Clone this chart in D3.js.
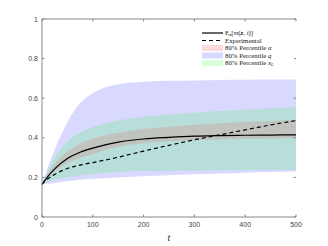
<!DOCTYPE html>
<html>
<head>
<meta charset="utf-8">
<script src="https://cdn.jsdelivr.net/npm/d3@7"></script>
<style>
  body { margin: 0; background: #fff; }
  .tick-label { font-family: "Liberation Sans", Arial, sans-serif; font-size: 7px; fill: #444; }
  .leg { font-family: "Liberation Serif", "DejaVu Serif", serif; font-size: 6.8px; fill: #222; }
</style>
</head>
<body>
<svg id="chart" width="328" height="246"></svg>
<script>
// time points (t)
const tVals = [0, 10, 25, 50, 75, 100, 150, 200, 250, 300, 350, 400, 450, 500];
// mean of m(z,t)
const meanVals = [0.165, 0.2, 0.243, 0.295, 0.327, 0.348, 0.378, 0.394, 0.402, 0.408, 0.411, 0.413, 0.414, 0.415];
// experimental curve
const expVals = [0.165, 0.19, 0.215, 0.245, 0.262, 0.275, 0.302, 0.333, 0.362, 0.39, 0.415, 0.44, 0.465, 0.487];
// 80% percentile bands
const alphaLo = [0.165, 0.19, 0.228, 0.272, 0.298, 0.318, 0.355, 0.372, 0.382, 0.388, 0.392, 0.395, 0.397, 0.398];
const alphaHi = [0.165, 0.21, 0.268, 0.33, 0.37, 0.395, 0.425, 0.444, 0.456, 0.466, 0.474, 0.48, 0.485, 0.49];
const qLo = [0.165, 0.168, 0.172, 0.18, 0.188, 0.193, 0.2, 0.206, 0.211, 0.216, 0.22, 0.224, 0.227, 0.23];
const qHi = [0.165, 0.24, 0.34, 0.48, 0.575, 0.625, 0.67, 0.683, 0.688, 0.69, 0.692, 0.693, 0.694, 0.695];
const xlLo = [0.165, 0.175, 0.188, 0.2, 0.21, 0.217, 0.228, 0.232, 0.234, 0.235, 0.236, 0.237, 0.238, 0.238];
const xlHi = [0.165, 0.225, 0.3, 0.38, 0.425, 0.455, 0.488, 0.506, 0.518, 0.527, 0.535, 0.542, 0.549, 0.555];

const xTicks = [0, 100, 200, 300, 400, 500];
const yTicks = [0, 0.2, 0.4, 0.6, 0.8, 1];

const svg = d3.select("#chart");
const mLeft = 42, mRight = 296, mTop = 19, mBottom = 217;

const x = d3.scaleLinear().domain([0, 500]).range([mLeft, mRight]);
const y = d3.scaleLinear().domain([0, 1]).range([mBottom, mTop]);

// bands: drawn in legend order, transparent so they mix
const bands = [
  {lo: qLo, hi: qHi, color: "rgb(0,0,255)", op: 0.15},
  {lo: xlLo, hi: xlHi, color: "rgb(0,255,0)", op: 0.15},
  {lo: alphaLo, hi: alphaHi, color: "rgb(255,0,0)", op: 0.12}
];
const area = d3.area().curve(d3.curveMonotoneX)
  .x(d => x(d.t)).y0(d => y(d.lo)).y1(d => y(d.hi));

bands.forEach(b => {
  const rows = tVals.map((t, i) => ({t: t, lo: b.lo[i], hi: b.hi[i]}));
  svg.append("path").attr("d", area(rows))
    .attr("fill", b.color).attr("fill-opacity", b.op).attr("stroke", "none");
});

const line = d3.line().curve(d3.curveMonotoneX).x(d => x(d[0])).y(d => y(d[1]));

svg.append("path").attr("d", line(tVals.map((t, i) => [t, meanVals[i]])))
  .attr("fill", "none").attr("stroke", "#000").attr("stroke-width", 1.2);
svg.append("path").attr("d", line(tVals.map((t, i) => [t, expVals[i]])))
  .attr("fill", "none").attr("stroke", "#000").attr("stroke-width", 1.2)
  .attr("stroke-dasharray", "4,3");

// axes (matlab style, ticks pointing in)
const axCol = "#888";
svg.append("line").attr("x1", mLeft).attr("x2", mRight).attr("y1", mBottom).attr("y2", mBottom).attr("stroke", axCol);
svg.append("line").attr("x1", mLeft).attr("x2", mRight).attr("y1", mTop).attr("y2", mTop).attr("stroke", axCol);
svg.append("line").attr("x1", mLeft).attr("x2", mLeft).attr("y1", mTop).attr("y2", mBottom).attr("stroke", axCol);

xTicks.forEach(v => {
  svg.append("line").attr("x1", x(v)).attr("x2", x(v)).attr("y1", mBottom).attr("y2", mBottom - 2.5).attr("stroke", axCol);
  svg.append("line").attr("x1", x(v)).attr("x2", x(v)).attr("y1", mTop).attr("y2", mTop + 2.5).attr("stroke", axCol);
  svg.append("text").attr("class", "tick-label").attr("x", x(v)).attr("y", mBottom + 10)
    .attr("text-anchor", "middle").text(v);
});
yTicks.forEach(v => {
  svg.append("line").attr("x1", mLeft).attr("x2", mLeft + 2.5).attr("y1", y(v)).attr("y2", y(v)).attr("stroke", axCol);
  svg.append("line").attr("x1", mRight).attr("x2", mRight - 2.5).attr("y1", y(v)).attr("y2", y(v)).attr("stroke", axCol);
  svg.append("text").attr("class", "tick-label").attr("x", mLeft - 4).attr("y", y(v) + 2.5)
    .attr("text-anchor", "end").text(v);
});

svg.append("text").attr("x", (mLeft + mRight) / 2).attr("y", 241)
  .attr("text-anchor", "middle").attr("font-family", "Liberation Serif, serif")
  .attr("font-style", "italic").attr("font-size", 10).attr("fill", "#222").text("t");

// legend
const lg = svg.append("g");
lg.append("rect").attr("x", 198).attr("y", 27).attr("width", 96).attr("height", 41).attr("fill", "#fff");
const legX = 202, legW = 21, legTx = 225;
const legY = [33, 40.5, 48, 55.5, 63];

lg.append("line").attr("x1", legX).attr("x2", legX + legW).attr("y1", legY[0]).attr("y2", legY[0])
  .attr("stroke", "#000").attr("stroke-width", 1.2);
lg.append("line").attr("x1", legX).attr("x2", legX + legW).attr("y1", legY[1]).attr("y2", legY[1])
  .attr("stroke", "#000").attr("stroke-width", 1.2).attr("stroke-dasharray", "4,3");
[bands[2], bands[0], bands[1]].forEach((b, i) => {
  lg.append("rect").attr("x", legX).attr("y", legY[i + 2] - 3).attr("width", legW).attr("height", 6)
    .attr("fill", b.color).attr("fill-opacity", 0.15);
});

const t0 = lg.append("text").attr("class", "leg").attr("x", legTx).attr("y", legY[0] + 2);
t0.append("tspan").text("E");
t0.append("tspan").attr("font-size", 4.5).attr("dy", 1).attr("font-weight", "bold").text("z");
t0.append("tspan").attr("dy", -1).text("[");
t0.append("tspan").attr("font-style", "italic").text("m");
t0.append("tspan").text("(");
t0.append("tspan").attr("font-weight", "bold").attr("font-style", "italic").text("z");
t0.append("tspan").text(", ");
t0.append("tspan").attr("font-style", "italic").text("t");
t0.append("tspan").text(")]");

lg.append("text").attr("class", "leg").attr("x", legTx).attr("y", legY[1] + 2.3).text("Experimental");

const pct = [["α", null], ["q", null], ["x", "L"]];
pct.forEach((p, i) => {
  const tx = lg.append("text").attr("class", "leg").attr("x", legTx).attr("y", legY[i + 2] + 2.3);
  tx.append("tspan").text("80% Percentile ");
  tx.append("tspan").attr("font-style", "italic").text(p[0]);
  if (p[1]) tx.append("tspan").attr("font-size", 4.5).attr("font-style", "italic").attr("dy", 1).text(p[1]);
});
</script>
</body>
</html>
